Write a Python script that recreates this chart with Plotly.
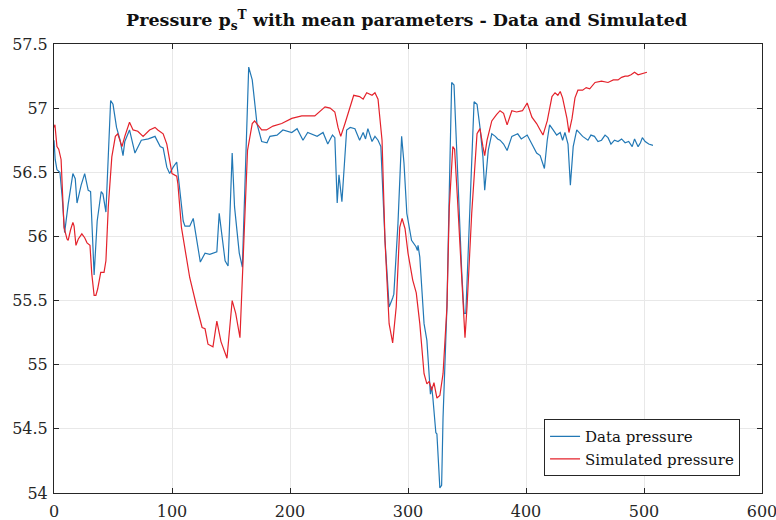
import plotly.graph_objects as go

# ---- Data pressure (blue) ----
data_x = [0, 1, 2.5, 5, 7, 9, 12, 16, 18, 19.5, 23, 26, 29, 31, 34, 36.6, 40, 41.5, 44, 48, 50, 53, 56, 58.5,
          60, 64, 68.6, 74, 80, 84, 85.6, 90, 92.5, 95.6, 98, 101, 104, 109.5, 111, 115, 118, 124, 128, 132,
          138, 140, 145, 147.5, 151, 153, 157, 159.6, 165, 168, 172, 176, 180.5, 183, 189, 194, 201.5, 206,
          211, 215, 223, 228, 232, 236, 238, 240, 241.5, 244, 248, 251, 255, 259, 262, 264, 266, 269.5, 272,
          274.6, 277, 280.5, 284, 287, 288, 291.5, 294.6, 296.6, 299, 303, 306.8, 308, 308.5, 310, 313.6, 316,
          318, 319, 320, 321, 323.6, 324.5, 327, 328.5, 329.7, 333, 334.7, 337, 339, 342, 345.6, 347.5, 349,
          352.5, 356, 358.5, 361, 363.5, 365, 368, 371, 374, 376, 378, 381, 384, 386, 388, 393, 396, 401, 404,
          406, 409, 412, 415.6, 418, 420, 423, 426, 429, 431, 433, 435.6, 437.6, 440, 443, 446, 448, 452.5,
          455, 458, 461, 464, 467, 469.5, 472, 475, 478, 481, 484, 487, 490, 492, 495, 497, 498.6, 501, 504, 507.6]
data_y = [56.75, 56.6, 56.52, 56.5, 56.3, 56.03, 56.25, 56.49, 56.45, 56.26, 56.4, 56.49, 56.36, 56.35, 55.7,
          56.12, 56.35, 56.33, 56.19, 57.06, 57.03, 56.85, 56.75, 56.63, 56.74, 56.83, 56.65, 56.75, 56.76,
          56.77, 56.78, 56.7, 56.69, 56.54, 56.49, 56.54, 56.58, 56.12, 56.08, 56.08, 56.14, 55.8, 55.87, 55.86,
          55.88, 56.18, 55.81, 55.77, 56.65, 56.23, 55.87, 55.76, 57.32, 57.22, 56.88, 56.74, 56.73, 56.78,
          56.79, 56.83, 56.81, 56.84, 56.75, 56.81, 56.78, 56.81, 56.72, 56.79, 56.77, 56.26, 56.48, 56.27,
          56.83, 56.85, 56.84, 56.75, 56.81, 56.76, 56.84, 56.74, 56.78, 56.75, 56.7, 55.97, 55.45, 55.52,
          55.55, 56.1, 56.78, 56.57, 56.18, 55.97, 55.92, 55.89, 55.93, 55.84, 55.32, 55.19, 54.85, 54.77,
          54.83, 54.75, 54.47, 54.46, 54.04, 54.06, 54.59, 55.45, 56.23, 57.2, 57.18, 56.49, 55.71, 55.4, 55.4,
          56.23, 57.05, 57.03, 56.85, 56.62, 56.36, 56.67, 56.8, 56.78, 56.76, 56.75, 56.72, 56.67, 56.72,
          56.78, 56.8, 56.76, 56.79, 56.74, 56.71, 56.65, 56.63, 56.53, 56.75, 56.87, 56.83, 56.79, 56.81,
          56.75, 56.81, 56.72, 56.4, 56.7, 56.83, 56.8, 56.78, 56.75, 56.79, 56.78, 56.74, 56.75, 56.79, 56.77,
          56.72, 56.75, 56.74, 56.76, 56.73, 56.74, 56.7, 56.76, 56.7, 56.73, 56.77, 56.74, 56.72, 56.71]

# ---- Simulated pressure (red) ----
sim_x = [0, 0.8, 2.5, 4, 6, 8.5, 11, 12, 14, 16, 17, 18.6, 20.6, 23.6, 26, 28, 30.5, 32, 34, 35.5, 37, 39.6,
         42.4, 44, 46, 49, 52, 54, 57.6, 60, 64, 67, 71, 75.5, 81, 85.6, 88, 92.5, 95.6, 100, 104, 105, 108,
         111, 113.6, 115, 121, 125.5, 128, 130.5, 134.7, 138, 141.5, 146.6, 151, 154, 157.6, 161, 164, 168,
         170, 176, 180, 185.6, 193, 201.5, 210, 221, 229.7, 234, 238, 240.7, 243, 246.6, 251, 254, 259, 262,
         265, 269.5, 272, 274.6, 278, 280.5, 284, 287, 290, 293, 295, 297.5, 300, 304, 307, 310, 313.6, 316,
         318, 320, 322, 324.5, 327, 329.7, 333, 335, 338, 339.5, 342, 345.6, 348.3, 350, 354, 358.5, 361,
         363.5, 365, 367, 371, 375, 378, 381, 384, 388, 392, 397, 401, 405, 409, 412, 414.4, 418, 422, 424.6,
         427, 429, 431, 434.7, 436.4, 439, 441.5, 444, 448, 451, 454, 458.5, 464, 469.5, 474, 478, 481, 484,
         486.4, 489, 492, 495, 498.6, 502.5]
sim_y = [56.85, 56.87, 56.7, 56.68, 56.6, 56.07, 55.98, 55.97, 56.05, 56.11, 56.08, 55.93, 55.98, 56.02,
         55.99, 55.95, 55.93, 55.71, 55.54, 55.54, 55.59, 55.72, 55.72, 55.81, 56.23, 56.62, 56.78, 56.8,
         56.7, 56.78, 56.89, 56.83, 56.82, 56.78, 56.83, 56.85, 56.83, 56.8, 56.72, 56.49, 56.47, 56.41,
         56.07, 55.89, 55.76, 55.68, 55.45, 55.29, 55.28, 55.16, 55.14, 55.34, 55.18, 55.05, 55.5, 55.4,
         55.21, 55.97, 56.67, 56.88, 56.9, 56.83, 56.83, 56.86, 56.88, 56.92, 56.94, 56.94, 57.01, 57.0,
         56.97, 56.85, 56.78, 56.88, 57.01, 57.1, 57.09, 57.07, 57.12, 57.1, 57.12, 57.07, 56.75, 55.97,
         55.32, 55.17, 55.45, 56.07, 56.14, 56.06, 55.87, 55.66, 55.56, 55.32, 54.93, 54.85, 54.87, 54.8,
         54.86, 54.74, 54.76, 54.93, 55.45, 56.23, 56.7, 56.68, 56.28, 55.71, 55.21, 55.45, 56.18, 56.8,
         56.84, 56.7, 56.63, 56.75, 56.9, 56.95, 56.98, 56.96, 56.87, 56.98, 56.97, 56.98, 57.04, 56.93,
         56.88, 56.83, 56.79, 56.9, 57.09, 57.12, 57.1, 57.13, 57.08, 56.92, 56.81, 56.92, 57.08, 57.14,
         57.14, 57.16, 57.15, 57.2, 57.21, 57.2, 57.22, 57.22, 57.24, 57.25, 57.25, 57.26, 57.28, 57.26,
         57.27, 57.28]

x_ticks = [0, 100, 200, 300, 400, 500, 600]
y_ticks = [54, 54.5, 55, 55.5, 56, 56.5, 57, 57.5]

font_family = "DejaVu Serif, Liberation Serif, serif"
axis_color = "#262626"

fig = go.Figure()
fig.add_trace(go.Scatter(x=data_x, y=data_y, mode="lines", name="Data pressure",
                         line=dict(color="#2278b5", width=1.2)))
fig.add_trace(go.Scatter(x=sim_x, y=sim_y, mode="lines", name="Simulated pressure",
                         line=dict(color="#e4222b", width=1.2)))

fig.update_layout(
    width=776, height=520,
    margin=dict(l=54, r=14, t=44, b=27, autoexpand=False),
    paper_bgcolor="white", plot_bgcolor="white",
    font=dict(family=font_family, size=16, color=axis_color),
    title=dict(text="<b>Pressure p<sub>s</sub><sup>T</sup> with mean parameters - Data and Simulated</b>",
               x=0.524, xanchor="center", y=0.962, yanchor="middle",
               font=dict(family=font_family, size=17.5, color="#111111")),
    showlegend=True,
    legend=dict(x=0.969, y=0.101, xanchor="right", yanchor="middle",
                bgcolor="white", bordercolor=axis_color, borderwidth=1,
                font=dict(family=font_family, size=15, color="#111111"),
                tracegroupgap=0, itemwidth=30),
)
fig.update_xaxes(range=[0, 600], tickvals=x_ticks, ticktext=[str(v) for v in x_ticks],
                 showgrid=True, gridcolor="#e8e8e8", gridwidth=1, zeroline=False,
                 showline=True, linecolor=axis_color, linewidth=1, mirror="ticks",
                 ticks="inside", ticklen=5, tickcolor=axis_color, tickfont=dict(size=16),
                 ticklabelstandoff=4, automargin=False, ticklabeloverflow="allow")
fig.update_yaxes(range=[54, 57.5], tickvals=y_ticks, ticktext=[f"{v:g}" for v in y_ticks],
                 showgrid=True, gridcolor="#e8e8e8", gridwidth=1, zeroline=False,
                 showline=True, linecolor=axis_color, linewidth=1, mirror="ticks",
                 ticks="inside", ticklen=5, tickcolor=axis_color, tickfont=dict(size=16),
                 ticklabelstandoff=2, automargin=False, ticklabeloverflow="allow")

fig.write_html("out.html")
